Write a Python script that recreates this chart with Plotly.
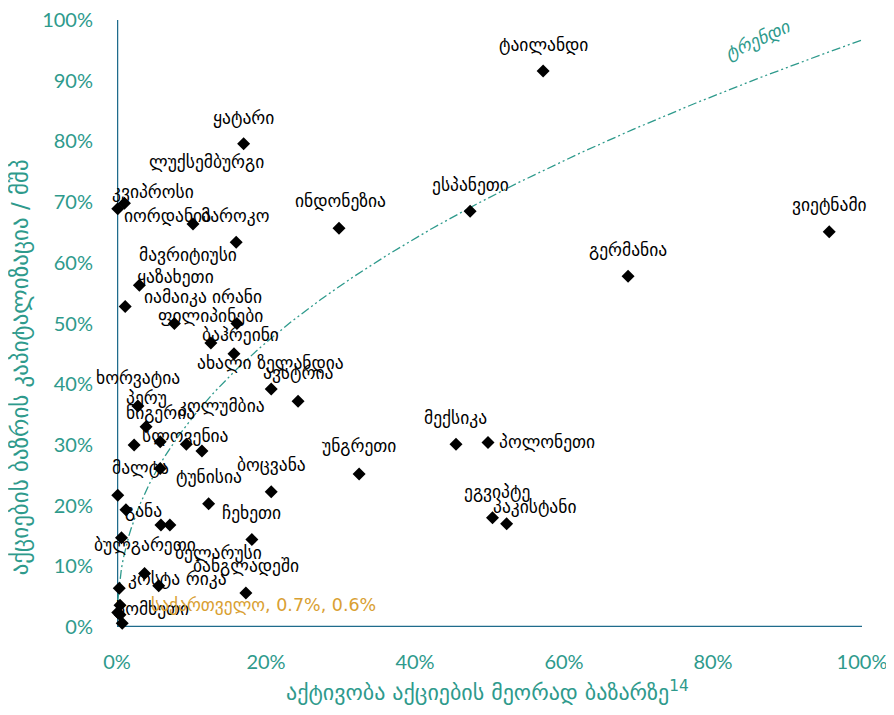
import numpy as np
import plotly.graph_objects as go

# ---- data (percent) ----
countries = [
    "ტაილანდი", "ყატარი", "ვიეტნამი", "ესპანეთი", "ინდონეზია", "გერმანია",
    "ლუქსემბურგი", "კვიპროსი", "იორდანია", "მაროკო", "ყაზახეთი", "მავრიტიუსი",
    "იამაიკა", "ირანი", "ფილიპინები", "ბაჰრეინი", "ახალი ზელანდია", "ავსტრია",
    "პერუ", "ნიგერია", "ხორვატია", "სლოვენია", "კოლუმბია", "ტუნისია",
    "მალტა", "", "ბოცვანა", "ჩეხეთი", "განა", "", "", "ბელარუსი",
    "ბულგარეთი", "კოსტა რიკა", "", "", "ბანგლადეში", "", "სომხეთი", "",
    "საქართველო", "მექსიკა", "პოლონეთი", "ეგვიპტე", "პაკისტანი", "უნგრეთი",
]
turnover = [
    57.2, 17.0, 95.6, 47.4, 29.8, 68.6,
    0.1, 1.0, 10.2, 16.0, 3.0, 1.1,
    7.7, 16.1, 12.6, 15.7, 20.7, 24.3,
    2.8, 3.9, 2.3, 5.8, 9.3, 11.4,
    5.8, 0.1, 20.7, 12.3, 1.2, 5.9, 7.1, 18.1,
    0.6, 3.7, 5.6, 0.3, 17.3, 0.4, 0.1, 0.4,
    0.7, 45.5, 49.8, 50.4, 52.3, 32.5,
]
market_cap = [
    91.6, 79.6, 65.1, 68.5, 65.7, 57.8,
    68.9, 69.8, 66.4, 63.4, 56.3, 52.8,
    50.0, 50.0, 46.8, 45.0, 39.2, 37.2,
    36.4, 33.0, 30.0, 30.5, 30.1, 29.0,
    26.1, 21.7, 22.3, 20.3, 19.3, 16.8, 16.8, 14.4,
    14.7, 8.8, 6.8, 6.4, 5.6, 3.6, 2.4, 2.0,
    0.6, 30.1, 30.4, 18.0, 17.0, 25.2,
]
x_ticks = [0, 20, 40, 60, 80, 100]
y_ticks = [0, 10, 20, 30, 40, 50, 60, 70, 80, 90, 100]

# power trend: y = 96.7 * (x/100)^0.45
TREND_COEF = 96.7
TREND_POW = 0.45

x_title = "აქტივობა აქციების მეორად ბაზარზე<sup>14</sup>"
y_title = "აქციების ბაზრის კაპიტალიზაცია / მშპ"
trend_label = "ტრენდი"
highlight = "საქართველო"

# ---- label pixel offsets (style only) ----
label_offsets = {
    "ტაილანდი": (0, -26), "ყატარი": (0, -26), "ვიეტნამი": (0, -27),
    "ესპანეთი": (0, -26), "ინდონეზია": (1, -27), "გერმანია": (0, -26),
    "ლუქსემბურგი": (89, -47), "კვიპროსი": (29, -11), "იორდანია": (-25, -8),
    "მაროკო": (-1, -26), "ყაზახეთი": (36, -8), "მავრიტიუსი": (63, -52),
    "იამაიკა": (1, -27), "ირანი": (0, -27), "ფილიპინები": (0, -27),
    "ბაჰრეინი": (7, -19), "ახალი ზელანდია": (-1, -26), "ავსტრია": (0, -28),
    "პერუ": (9, -8), "ნიგერია": (14, -14), "ხორვატია": (4, -67),
    "სლოვენია": (25, -6), "კოლუმბია": (35, -38), "ტუნისია": (7, 26),
    "მალტა": (-20, -1), "ბოცვანა": (0, -27), "ჩეხეთი": (43, 9),
    "განა": (18, 1), "ბელარუსი": (-33, 13), "ბულგარეთი": (24, 7),
    "კოსტა რიკა": (33, 5), "ბანგლადეში": (0, -27), "სომხეთი": (35, -3),
    "საქართველო": (141, -18), "მექსიკა": (0, -26), "პოლონეთი": (59, 0),
    "ეგვიპტე": (5, -26), "პაკისტანი": (28, -17), "უნგრეთი": (0, -28),
}

TEAL = "#2E9A8C"
AXIS = "#1F6B8C"
ORANGE = "#D9A032"
GEO_FONT = "DejaVu Sans"

fig = go.Figure()

tx = np.linspace(min(turnover), 100, 400)
ty = TREND_COEF * (tx / 100.0) ** TREND_POW
fig.add_trace(go.Scatter(
    x=tx, y=ty, mode="lines",
    line=dict(color=TEAL, width=1.3, dash="9px,3px,2px,3px,2px,3px"),
    hoverinfo="skip", showlegend=False,
))

fig.add_trace(go.Scatter(
    x=turnover, y=market_cap, mode="markers",
    marker=dict(symbol="diamond", size=10, color="black"),
    text=countries, cliponaxis=False, showlegend=False,
))

annotations = []
for name, xv, yv in zip(countries, turnover, market_cap):
    if not name:
        continue
    dx, dy = label_offsets.get(name, (0, -26))
    if name == highlight:
        txt = f"{name}, {xv}%, {yv}%"
        color = ORANGE
    else:
        txt = name
        color = "black"
    annotations.append(dict(
        x=xv, y=yv, xref="x", yref="y", text=txt, showarrow=False,
        xanchor="center", yanchor="middle", xshift=dx, yshift=-dy,
        font=dict(family=GEO_FONT, size=17.5, color=color),
    ))

annotations.append(dict(
    x=86.0, y=96.8, xref="x", yref="y", text=f"<i>{trend_label}</i>",
    showarrow=False, textangle=-25,
    font=dict(family=GEO_FONT, size=18, color=TEAL),
))
annotations.append(dict(
    x=0.497, y=-0.105, xref="paper", yref="paper", text=x_title,
    showarrow=False, xanchor="center", yanchor="middle",
    font=dict(family=GEO_FONT, size=22, color=TEAL),
))
annotations.append(dict(
    x=-0.130, y=0.428, xref="paper", yref="paper", text=y_title,
    showarrow=False, xanchor="center", yanchor="middle", textangle=-90,
    font=dict(family=GEO_FONT, size=23, color=TEAL),
))

fig.update_layout(
    width=886, height=707,
    margin=dict(l=109, r=32, t=12, b=88),
    plot_bgcolor="white", paper_bgcolor="white",
    annotations=annotations,
    xaxis=dict(
        range=[0, 100], tickvals=x_ticks,
        ticktext=[f"{v}%" for v in x_ticks],
        showgrid=False, zeroline=False, showline=False,
        tickfont=dict(family="Lato", size=20, color=TEAL),
        ticklen=0, ticks="", automargin=False, ticklabelstandoff=21,
        ticklabeloverflow="allow",
    ),
    yaxis=dict(
        range=[0, 100], tickvals=y_ticks,
        ticktext=[f"{v}%" for v in y_ticks],
        showgrid=False, zeroline=False, showline=False,
        tickfont=dict(family="Lato", size=20, color=TEAL),
        ticks="", ticklen=0, automargin=False, ticklabelstandoff=23,
        ticklabeloverflow="allow",
    ),
    shapes=[
        dict(type="line", xref="x", yref="y", x0=0, x1=0, y0=0, y1=100,
             line=dict(color=AXIS, width=2.5), layer="below"),
        dict(type="line", xref="x", yref="y", x0=0, x1=100, y0=0, y1=0,
             line=dict(color=AXIS, width=2.5), layer="below"),
    ],
)

fig.write_html("out.html")
